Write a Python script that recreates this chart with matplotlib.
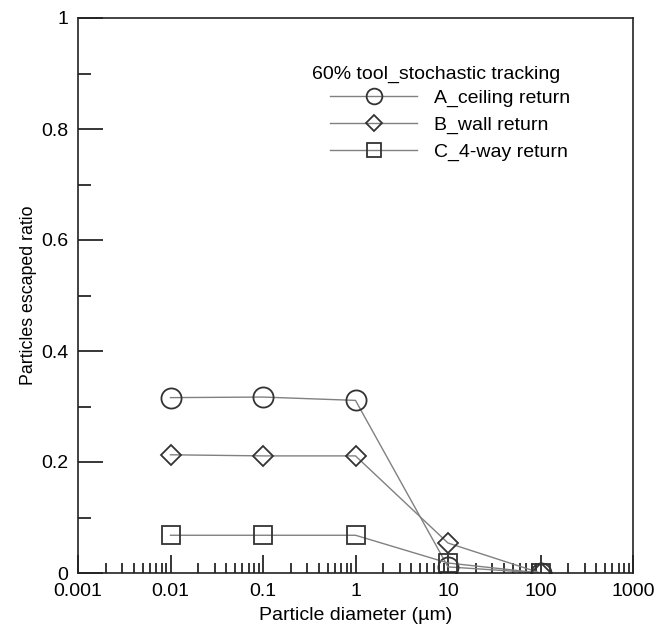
import matplotlib
matplotlib.use('Agg')
import matplotlib.pyplot as plt
from matplotlib.ticker import LogLocator, FixedFormatter, FixedLocator

plt.rcParams['font.family'] = ['Liberation Sans', 'DejaVu Sans']

diameters = [0.01, 0.1, 1, 10, 100]
ceiling_return = [0.316, 0.317, 0.311, 0.011, 0.0]
wall_return = [0.213, 0.211, 0.211, 0.054, 0.0]
four_way_return = [0.068, 0.068, 0.068, 0.018, 0.0]

labels = ['A_ceiling return', 'B_wall return', 'C_4-way return']
legend_title = '60% tool_stochastic tracking'
x_ticks = [0.001, 0.01, 0.1, 1, 10, 100, 1000]
x_tick_labels = ['0.001', '0.01', '0.1', '1', '10', '100', '1000']
y_ticks = [0, 0.2, 0.4, 0.6, 0.8, 1]
y_tick_labels = ['0', '0.2', '0.4', '0.6', '0.8', '1']
y_minor = [0.1, 0.3, 0.5, 0.7, 0.9]

fs = 14
fig = plt.figure(figsize=(6.63, 6.29), dpi=100)
ax = fig.add_axes([78 / 663, 1 - 573 / 629, 555 / 663, 555 / 629])

line_col = '#808080'
edge_col = '#333333'
ax.plot(diameters, ceiling_return, '-', color=line_col, lw=1.0, marker='o', ms=14.5,
        mfc='none', mec=edge_col, mew=1.3, label=labels[0])
ax.plot(diameters, wall_return, '-', color=line_col, lw=1.0, marker='D', ms=10.5,
        mfc='none', mec=edge_col, mew=1.3, label=labels[1])
ax.plot(diameters, four_way_return, '-', color=line_col, lw=1.0, marker='s', ms=13,
        mfc='none', mec=edge_col, mew=1.3, label=labels[2])

ax.set_xscale('log')
ax.set_xlim(0.001, 1000)
ax.set_ylim(0, 1)
ax.xaxis.set_major_locator(FixedLocator(x_ticks))
ax.xaxis.set_major_formatter(FixedFormatter(x_tick_labels))
ax.xaxis.set_minor_locator(LogLocator(base=10, subs=range(2, 10), numticks=20))
ax.yaxis.set_major_locator(FixedLocator(y_ticks))
ax.yaxis.set_major_formatter(FixedFormatter(y_tick_labels))
ax.yaxis.set_minor_locator(FixedLocator(y_minor))

ax.tick_params(axis='x', which='major', direction='in', length=13, width=1.1, labelsize=fs, pad=7)
ax.tick_params(axis='x', which='minor', direction='in', length=7, width=1.1)
ax.tick_params(axis='y', which='major', direction='in', length=18, width=1.1, labelsize=fs, pad=7)
ax.tick_params(axis='y', which='minor', direction='in', length=9, width=1.1)
for s in ax.spines.values():
    s.set_linewidth(1.2)
    s.set_color('#222222')

ax.set_xlabel('Particle diameter (\u00b5m)', fontsize=fs, labelpad=5)
ax.set_ylabel('Particles escaped ratio', fontsize=12.8, labelpad=3)

ax.text(0.4216, 0.899, legend_title, transform=ax.transAxes, fontsize=fs,
        ha='left', va='center')
ax.legend(frameon=False, fontsize=fs, loc='upper left', bbox_to_anchor=(0.454, 0.871),
          handlelength=4.5, handletextpad=0.85, labelspacing=0.47,
          markerscale=0.78, borderaxespad=0, borderpad=0)

plt.savefig('out.png', dpi=100)
